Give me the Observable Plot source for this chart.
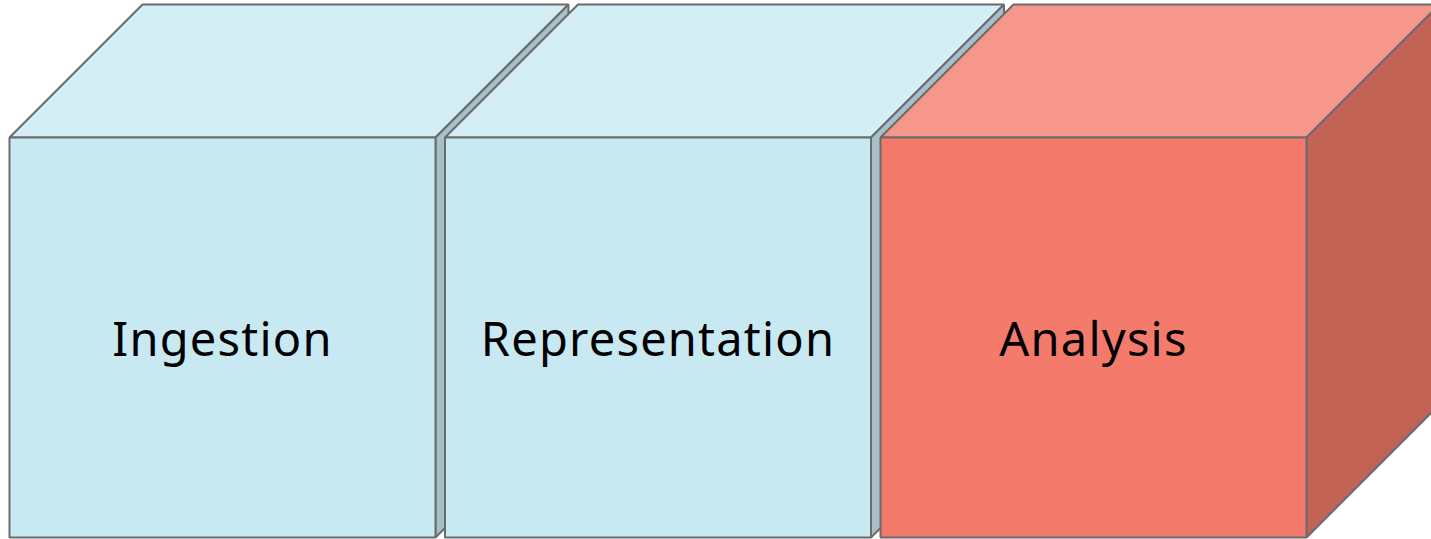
<!DOCTYPE html>
<html>
<head>
<meta charset="utf-8">
<script src="https://cdn.jsdelivr.net/npm/d3@7"></script>
<script src="https://cdn.jsdelivr.net/npm/@observablehq/plot@0.6"></script>
<style>
  html, body { margin: 0; padding: 0; background: #ffffff; }
  #chart svg { display: block; }
  #chart svg text { font-variant-ligatures: none; letter-spacing: 1.2px; }
</style>
</head>
<body>
<div id="chart"></div>
<script>
// ---- data ----
const stages = ["Ingestion", "Representation", "Analysis"];
const highlighted = ["Analysis"];
const faces = ["top", "side", "front"];

// ---- styles ----
const palette = {
  normal:    {top: "#d3eef4", side: "#a5c0c9", front: "#c8e9f2"},
  highlight: {top: "#f7968a", side: "#c26356", front: "#f47b6b"}
};
const edgeColor = "#6b6b6b";

// ---- layout (in pixel units of the scales) ----
const W = 1431, H = 539;
const left0 = 9, step = 435.5, cubeW = 426, frontTop = 137, frontBottom = 537, depth = 133;

function facePoints(face, x0, x1, y0, y1, d) {
  if (face === "top")   return [[x0, y0], [x0 + d, y0 - d], [x1 + d, y0 - d], [x1, y0]];
  if (face === "side")  return [[x1, y0], [x1 + d, y0 - d], [x1 + d, y1 - d], [x1, y1]];
  return [[x0, y0], [x1, y0], [x1, y1], [x0, y1]];
}

const pts = [];
stages.forEach((name, i) => {
  const x0 = left0 + i * step, x1 = x0 + cubeW;
  const pal = highlighted.includes(name) ? palette.highlight : palette.normal;
  faces.forEach(face => {
    facePoints(face, x0, x1, frontTop, frontBottom, depth).forEach(([x, y]) => {
      pts.push({id: `${i}-${face}`, x, y, color: pal[face]});
    });
  });
});

const labels = stages.map((name, i) => ({name, cx: left0 + i * step + cubeW / 2, cy: (frontTop + frontBottom) / 2 + 3}));

const chart = Plot.plot({
  width: W,
  height: H,
  margin: 0,
  x: {domain: [0, W], range: [0, W], axis: null},
  y: {domain: [0, H], range: [0, H], axis: null},
  marks: [
    Plot.line(pts, {
      x: "x", y: "y", z: "id",
      fill: "color",
      stroke: edgeColor,
      strokeWidth: 2,
      strokeLinejoin: "miter",
      curve: "linear-closed"
    }),
    Plot.text(labels, {
      x: "cx", y: "cy", text: "name",
      fontSize: 47,
      fontFamily: "'Noto Sans', 'Open Sans', sans-serif",
      fill: "#000000",
      textAnchor: "middle",
      lineAnchor: "middle"
    })
  ],
  style: {background: "#ffffff", overflow: "hidden"}
});
document.getElementById("chart").appendChild(chart);
</script>
</body>
</html>
